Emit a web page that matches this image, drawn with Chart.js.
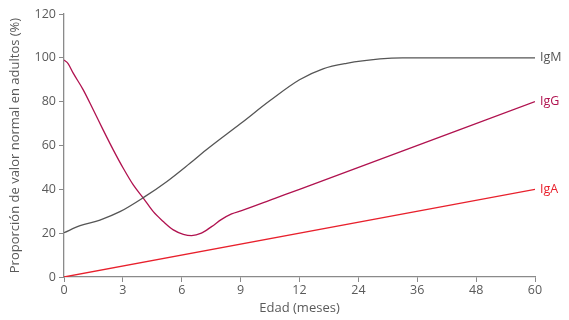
<!DOCTYPE html>
<html>
<head>
<meta charset="utf-8">
<script src="https://cdn.jsdelivr.net/npm/chart.js@4"></script>
<style>
html,body{margin:0;padding:0;background:#fff;}
#wrap{width:569px;height:320px;}
</style>
</head>
<body>
<div id="wrap"><canvas id="c" width="569" height="320"></canvas></div>
<script>
// Tick labels (months) shown at equally spaced positions
const tickMonths = [0, 3, 6, 9, 12, 24, 36, 48, 60];

// Series: months and % of adult normal value
const igmMonths = [0, 0.82, 1.83, 2.85, 4.04, 5.23, 6.42, 7.35, 9, 10.5, 12, 16.8, 21.6, 28.4, 33, 48, 60];
const igmValues = [20.2, 23.4, 26, 29.8, 36.2, 43.5, 51.9, 58.7, 70, 80.5, 90, 95, 97.5, 99.5, 100, 100, 100];

const iggMonths = [0, 0.2, 0.47, 0.98, 1.49, 2.0, 2.51, 3.02, 3.53, 4.04, 4.55, 5.06, 5.57, 6.08, 6.5, 7.0, 7.52, 8.03, 8.54, 9.05, 10.75, 12, 60];
const iggValues = [99, 97.5, 93, 85.4, 76.3, 67, 58, 49.6, 42, 36, 29.8, 25.3, 21.5, 19.5, 18.9, 20, 23, 26.3, 28.8, 30.3, 35.9, 40, 80];

const igaMonths = [0, 60];
const igaValues = [0, 40];

const seriesNames = ['IgM', 'IgG', 'IgA'];
const seriesColors = ['#555555', '#b0124f', '#e8202c'];

// piecewise axis: ticks equally spaced
function monthToAxis(m) {
  for (let i = 0; i < tickMonths.length - 1; i++) {
    const a = tickMonths[i], b = tickMonths[i + 1];
    if (m <= b) return i + (m - a) / (b - a);
  }
  return tickMonths.length - 1;
}
function pts(ms, vs) { return ms.map((m, i) => ({x: monthToAxis(m), y: vs[i]})); }

const endLabels = {
  id: 'endLabels',
  afterDatasetsDraw(chart) {
    const ctx = chart.ctx;
    ctx.save();
    ctx.font = '12.5px "Open Sans"';
    ctx.textBaseline = 'middle';
    ctx.textAlign = 'left';
    chart.data.datasets.forEach((ds, i) => {
      const meta = chart.getDatasetMeta(i);
      const p = meta.data[meta.data.length - 1];
      ctx.fillStyle = ds.borderColor;
      ctx.fillText(ds.label, p.x + 5, p.y);
    });
    ctx.restore();
  }
};

const axisColor = '#8a8a8a';
const textColor = '#5a5a5a';

new Chart(document.getElementById('c'), {
  type: 'line',
  data: {
    datasets: [
      {label: seriesNames[0], data: pts(igmMonths, igmValues), borderColor: seriesColors[0]},
      {label: seriesNames[1], data: pts(iggMonths, iggValues), borderColor: seriesColors[1]},
      {label: seriesNames[2], data: pts(igaMonths, igaValues), borderColor: seriesColors[2]}
    ].map(d => Object.assign(d, {borderWidth: 1.3, pointRadius: 0, fill: false, cubicInterpolationMode: 'monotone'}))
  },
  options: {
    responsive: false,
    animation: false,
    layout: {padding: {left: 0, right: 34, top: 14, bottom: 0}},
    plugins: {legend: {display: false}, tooltip: {enabled: false}},
    scales: {
      x: {
        type: 'linear', min: 0, max: tickMonths.length - 1,
        afterFit(s) { s.height = 43; },
        ticks: {stepSize: 1, color: textColor, font: {family: 'Open Sans', size: 12.5}, padding: 1,
          callback: v => tickMonths[v] !== undefined ? String(tickMonths[v]) : ''},
        grid: {drawOnChartArea: false, color: axisColor, tickLength: 5},
        border: {color: axisColor, width: 1.3},
        title: {display: true, text: 'Edad (meses)', color: textColor, font: {family: 'Open Sans', size: 13}, padding: {top: 1}}
      },
      y: {
        min: 0, max: 120,
        afterFit(s) { s.width = 64; },
        ticks: {stepSize: 20, color: textColor, font: {family: 'Open Sans', size: 12.5}, padding: 3},
        grid: {drawOnChartArea: false, color: axisColor, tickLength: 5},
        border: {color: axisColor, width: 1.3},
        title: {display: true, text: 'Proporción de valor normal en adultos (%)', color: textColor, font: {family: 'Open Sans', size: 13}, padding: {top: 7, bottom: 2}}
      }
    }
  },
  plugins: [endLabels]
});
</script>
</body>
</html>
